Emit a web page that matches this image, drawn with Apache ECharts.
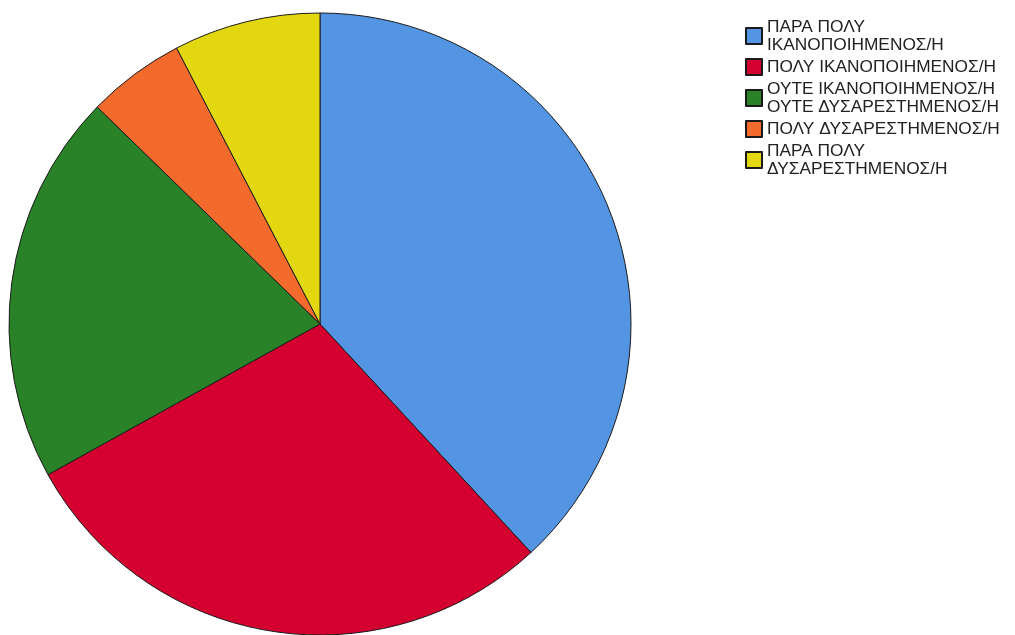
<!DOCTYPE html>
<html>
<head>
<meta charset="utf-8">
<script src="https://cdn.jsdelivr.net/npm/echarts@6/dist/echarts.min.js"></script>
<style>
  html, body { margin: 0; padding: 0; background: #fff; }
  #chart { width: 1015px; height: 635px; }
</style>
</head>
<body>
<div id="chart"></div>
<script>
// κατηγορίες και τιμές
var categories = [
    'ΠΑΡΑ ΠΟΛΥ\nΙΚΑΝΟΠΟΙΗΜΕΝΟΣ/Η',
    'ΠΟΛΥ ΙΚΑΝΟΠΟΙΗΜΕΝΟΣ/Η',
    'ΟΥΤΕ ΙΚΑΝΟΠΟΙΗΜΕΝΟΣ/Η\nΟΥΤΕ ΔΥΣΑΡΕΣΤΗΜΕΝΟΣ/Η',
    'ΠΟΛΥ ΔΥΣΑΡΕΣΤΗΜΕΝΟΣ/Η',
    'ΠΑΡΑ ΠΟΛΥ\nΔΥΣΑΡΕΣΤΗΜΕΝΟΣ/Η'
];
var counts = [45, 34, 24, 6, 9];
var colors = ['#5495e3', '#d40030', '#2a8228', '#f26a2c', '#e3d810'];

var myChart = echarts.init(document.getElementById('chart'));

var pieData = categories.map(function (name, i) {
    return { name: name, value: counts[i], itemStyle: { color: colors[i] } };
});

var option = {
    animation: false,
    color: colors,
    legend: {
        orient: 'vertical',
        left: 740,
        top: 13,
        itemWidth: 16,
        itemHeight: 16,
        itemGap: 4,
        icon: 'rect',
        textStyle: {
            fontFamily: 'Liberation Sans, Arial, sans-serif',
            fontSize: 17.3,
            lineHeight: 18,
            color: '#222'
        },
        data: categories
    },
    series: [
        {
            type: 'pie',
            center: [320, 324],
            radius: 311,
            startAngle: 90,
            clockwise: true,
            label: { show: false },
            labelLine: { show: false },
            emphasis: { disabled: true },
            itemStyle: {
                borderColor: '#1a1a1a',
                borderWidth: 1
            },
            data: pieData
        }
    ]
};

myChart.setOption(option);
</script>
</body>
</html>
